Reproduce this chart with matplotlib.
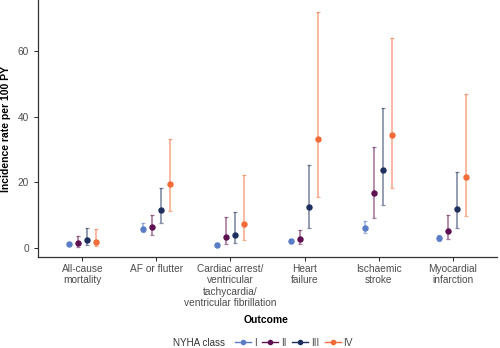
import numpy as np
import matplotlib.pyplot as plt
from matplotlib.lines import Line2D

plt.rcParams['font.family'] = ['Liberation Sans', 'DejaVu Sans']

outcomes = ["All-cause\nmortality", "AF or flutter",
            "Cardiac arrest/\nventricular\ntachycardia/\nventricular fibrillation",
            "Heart\nfailure", "Ischaemic\nstroke", "Myocardial\ninfarction"]
classes = ["I", "II", "III", "IV"]
colors = ["#5A7CC8", "#5E1050", "#1E2F5E", "#F26B38"]

# incidence rate per 100 PY, rows = NYHA class, cols = outcome
rate = [[1.2, 5.9, 1.0, 2.0, 6.0, 2.9],
        [1.5, 6.4, 3.4, 2.7, 16.9, 5.2],
        [2.4, 11.6, 4.0, 12.4, 23.7, 11.9],
        [1.8, 19.4, 7.2, 33.3, 34.4, 21.6]]
lower = [[1.0, 4.8, 0.6, 1.5, 4.6, 2.1],
         [0.4, 4.1, 1.1, 1.1, 9.3, 2.7],
         [0.9, 7.5, 1.4, 6.0, 13.1, 6.0],
         [0.5, 11.3, 2.4, 15.5, 18.3, 9.9]]
upper = [[1.4, 7.5, 1.5, 2.6, 8.2, 4.1],
         [3.8, 10.1, 9.4, 5.4, 30.7, 10.1],
         [6.2, 18.2, 10.9, 25.3, 42.8, 23.2],
         [5.7, 33.4, 22.4, 72.0, 64.1, 47.1]]

fig = plt.figure(figsize=(5.0, 3.48), dpi=100)
ax = fig.add_axes([0.076, 0.261, 0.918, 0.739])

x = np.arange(len(outcomes))
offsets = [-0.1875, -0.0625, 0.0625, 0.1875]
for i, cls in enumerate(classes):
    r = np.array(rate[i])
    lo = np.array(lower[i])
    hi = np.array(upper[i])
    xs = x + offsets[i]
    ax.errorbar(xs, r, yerr=[r - lo, hi - r], fmt='none', ecolor=colors[i],
                alpha=0.55, elinewidth=1.2, capsize=1.6, capthick=0.9, zorder=2)
    ax.plot(xs, r, 'o', color=colors[i], markersize=3.6, zorder=3)

ax.set_xlim(-0.6, 5.6)
ax.set_ylim(-2.8, 75.7)
ax.set_yticks([0, 20, 40, 60])
ax.set_xticks(x)
ax.set_xticklabels(outcomes, fontsize=7.3, color='#4D4D4D', linespacing=1.15)
ax.tick_params(axis='y', labelsize=7.3, labelcolor='#4D4D4D', length=3, width=0.6)
ax.tick_params(axis='x', length=3, width=0.6, pad=2)
for s in ['top', 'right']:
    ax.spines[s].set_visible(False)
for s in ['left', 'bottom']:
    ax.spines[s].set_linewidth(0.9)
    ax.spines[s].set_color('#333333')

ax.set_ylabel("Incidence rate per 100 PY", fontsize=7.5, fontweight='bold', labelpad=5)
fig.text(0.532, 0.08, "Outcome", fontsize=7.5, fontweight='bold', ha='center', va='center')

handles = [Line2D([0], [0], color=c, marker='o', markersize=3, linewidth=1.0) for c in colors]
leg = fig.legend(handles, classes, loc='center left', bbox_to_anchor=(0.47, 0.015), ncol=4,
                 frameon=False, fontsize=7.3, handlelength=1.6, handletextpad=0.25,
                 columnspacing=0.55, borderaxespad=0, borderpad=0)
for t in leg.get_texts():
    t.set_color('#4D4D4D')
fig.text(0.45, 0.015, "NYHA class", fontsize=7.1, color='#333333', ha='right', va='center')

fig.savefig("out.png", dpi=100)
